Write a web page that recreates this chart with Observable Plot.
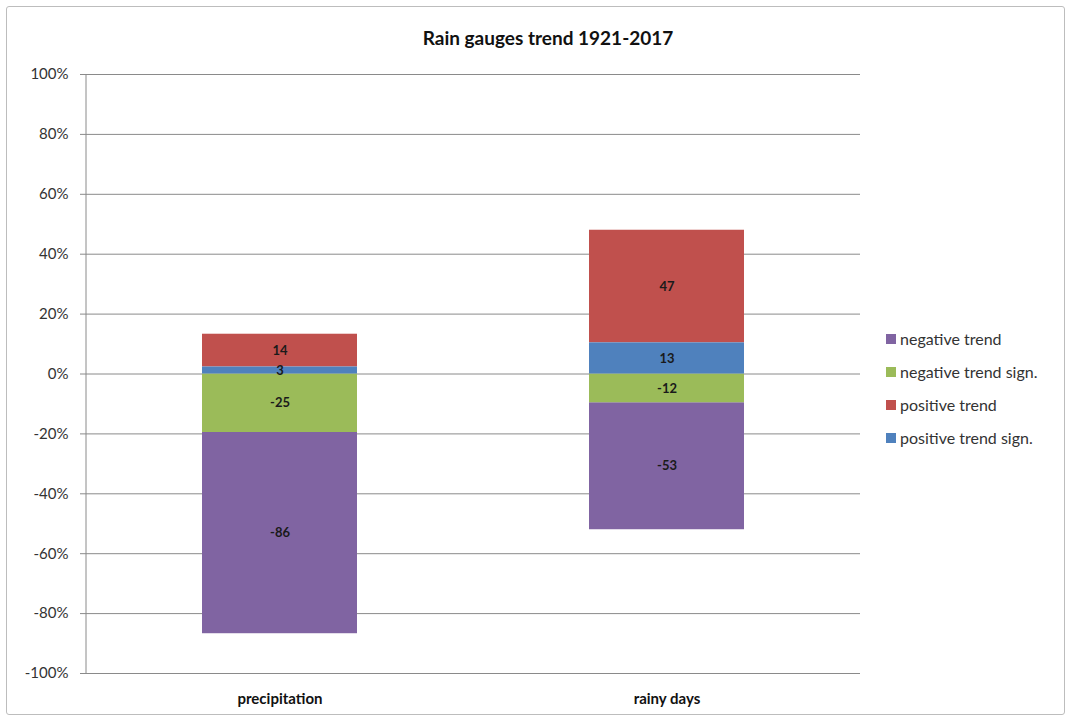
<!DOCTYPE html>
<html>
<head>
<meta charset="utf-8">
<script src="https://cdn.jsdelivr.net/npm/d3@7"></script>
<script src="https://cdn.jsdelivr.net/npm/@observablehq/plot@0.6"></script>
<style>
  body { margin: 0; background: #fff; font-family: Lato, "Open Sans", sans-serif; }
  #wrap { position: relative; width: 1071px; height: 720px; overflow: hidden; }
  #frame { position: absolute; left: 6px; top: 6px; width: 1057px; height: 707px; border: 1px solid #bdbdbd; border-radius: 3px; }
  #title { position: absolute; left: 0; width: 1096px; top: 26px; text-align: center; font-weight: bold; font-size: 19px; color: #111; }
  #chart { position: absolute; left: 0; top: 0; }
  #legend { position: absolute; left: 886px; top: 322px; font-size: 16px; color: #333; }
  .item { display: flex; align-items: center; height: 33px; }
  .sw { width: 10px; height: 10px; margin-right: 4px; }
</style>
</head>
<body>
<div id="wrap">
  <div id="frame"></div>
  <div id="title">Rain gauges trend 1921-2017</div>
  <div id="chart"></div>
  <div id="legend"></div>
</div>
<script>
const categories = ["precipitation", "rainy days"];
const seriesNames = ["negative trend", "negative trend sign.", "positive trend", "positive trend sign."];
const seriesColors = ["#8064A2", "#9BBB59", "#C0504D", "#4F81BD"];
const precipitationCounts = [-86, -25, 14, 3];
const rainyDaysCounts = [-53, -12, 47, 13];
const yTicks = [-1, -0.8, -0.6, -0.4, -0.2, 0, 0.2, 0.4, 0.6, 0.8, 1];
// stacking order from zero outward
const stackOrder = ["negative trend sign.", "negative trend", "positive trend sign.", "positive trend"];

const countsByCategory = [precipitationCounts, rainyDaysCounts];
const data = [];
categories.forEach((c, i) => {
  const counts = countsByCategory[i];
  const total = d3.sum(counts, Math.abs);
  seriesNames.forEach((s, j) => {
    data.push({category: c, series: s, count: counts[j], pct: counts[j] / total});
  });
});

const chart = Plot.plot({
  width: 1071,
  height: 720,
  marginTop: 74,
  marginBottom: 47,
  marginLeft: 86,
  marginRight: 211,
  style: {fontFamily: "Lato, 'Open Sans', sans-serif", background: "transparent"},
  x: {domain: categories, paddingInner: 0.6, paddingOuter: 0.3, label: null, axis: null},
  y: {domain: [-1, 1], label: null, axis: null},
  color: {domain: seriesNames, range: seriesColors},
  marks: [
    Plot.ruleY(yTicks, {stroke: "#8a8a8a"}),
    Plot.barY(data, Plot.stackY({
      x: "category", y: "pct", fill: "series", z: "series",
      order: stackOrder
    })),
    Plot.text(data, Plot.stackY({
      x: "category", y: "pct", z: "series", text: d => String(d.count),
      order: stackOrder, fontWeight: "bold", fontSize: 13, fill: "#1a1a1a"
    })),
    Plot.axisY({ticks: yTicks, tickFormat: d => Math.round(d * 100) + "%", tickSize: 6, tickPadding: 12,
      stroke: "#8a8a8a", fill: "#333", fontSize: 15}),
    Plot.axisX({tickSize: 0, tickPadding: 20, fontSize: 15, fontWeight: "bold", fill: "#111"})
  ]
});
document.getElementById("chart").appendChild(chart);

// y axis line drawn using the plot's own y scale
const ys = chart.scale("y");
d3.select(chart).append("line")
  .attr("x1", 86).attr("x2", 86)
  .attr("y1", ys.apply(1)).attr("y2", ys.apply(-1))
  .attr("stroke", "#8a8a8a");

const legend = document.getElementById("legend");
seriesNames.forEach((s, i) => {
  const it = document.createElement("div");
  it.className = "item";
  it.innerHTML = `<div class="sw" style="background:${seriesColors[i]}"></div><span>${s}</span>`;
  legend.appendChild(it);
});
</script>
</body>
</html>
